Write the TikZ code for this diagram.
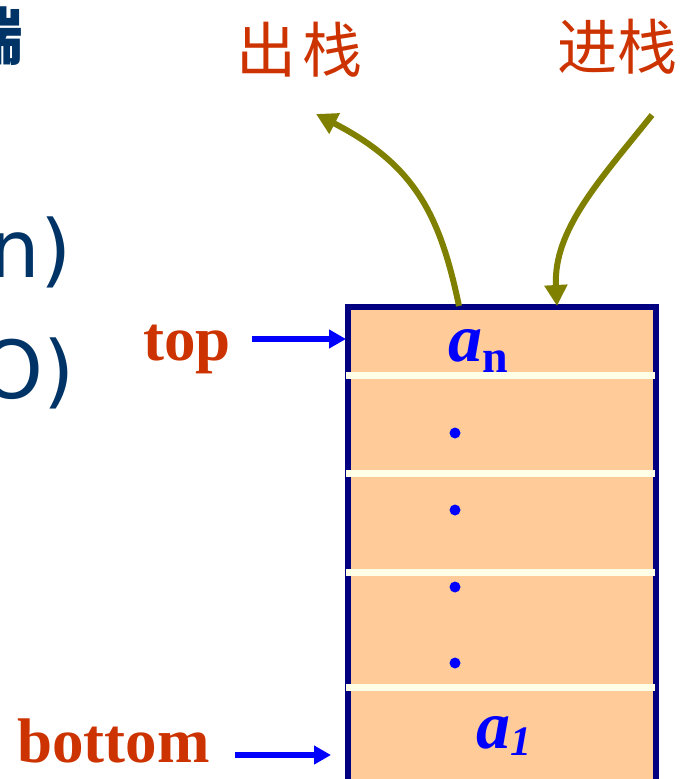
\documentclass[tikz,border=0pt]{standalone}
\usepackage{fontspec}
\setmainfont{Liberation Serif}
\newfontfamily\cjk{Noto Sans CJK SC}
\newfontfamily\slidesans{DejaVu Sans}
\usepackage{xcolor}
\usetikzlibrary{arrows.meta}
\definecolor{peach}{HTML}{FFCC99}
\definecolor{navyline}{HTML}{000080}
\definecolor{cream}{HTML}{FFFFE8}
\definecolor{labelred}{HTML}{CC3300}
\definecolor{olivearrow}{HTML}{808000}
\definecolor{slideblue}{HTML}{003366}

\begin{document}
\begin{tikzpicture}[x=1pt,y=-1pt,
    lbl/.style={inner sep=0pt,text=labelred,font=\fontsize{63}{63}\selectfont\bfseries},
    cjklbl/.style={inner sep=0pt,text=labelred,font=\cjk\fontsize{60}{60}\selectfont},
    slidetxt/.style={inner sep=0pt,text=slideblue,font=\slidesans\fontsize{80}{80}\selectfont},
    elem/.style={inner sep=0pt,text=blue,font=\fontsize{68}{68}\selectfont\bfseries\itshape},
    bluearrow/.style={-{Triangle[length=17pt,width=18pt]},blue,line width=6pt},
    olivecurve/.style={-{Triangle[length=21pt,width=22pt]},olivearrow,line width=6pt}]
  \useasboundingbox (0,0) rectangle (695,779);

  % 左侧被截断的文字
  \node[slidetxt,anchor=center,font=\cjk\fontsize{62}{62}\selectfont\bfseries] (duan) at (-7,36) {端};
  \node[slidetxt,anchor=base east] (lineone) at (72,277) {n)};
  \node[slidetxt,anchor=base east] (linetwo) at (75,398) {O)};

  % 栈体
  \fill[peach] (348,307) rectangle (656,800);
  \draw[navyline,line width=6pt] (348,800) -- (348,307) -- (656,307) -- (656,800);
  \foreach \y in {375,473,572,687}
    \draw[cream,line width=7pt] (346,\y) -- (655,\y);
  \foreach \y in {433,510,587,663}
    \fill[blue] (455,\y) circle (5.5);

  % 元素
  \node[elem,anchor=base west] (an) at (448,361)
    {a\raisebox{-11pt}{\fontsize{46}{46}\selectfont\upshape n}};
  \node[elem,anchor=base west] (aone) at (476,748)
    {a\raisebox{-7pt}{\fontsize{42}{42}\selectfont 1}};

  % 指针
  \node[lbl,anchor=base east] (top) at (231,360) {top};
  \node[lbl,anchor=base west] (bottom) at (17,762) {bottom};
  \coordinate (topfrom) at (252,339);
  \coordinate (topto) at (346,339);
  \coordinate (bottomfrom) at (235,755);
  \coordinate (bottomto) at (331,755);
  \draw[bluearrow] (topfrom) -- (topto);
  \draw[bluearrow] (bottomfrom) -- (bottomto);

  % 出栈、进栈
  \node[cjklbl,anchor=west] (pop) at (236,50) {出\hspace{6pt}栈};
  \node[cjklbl,anchor=west] (push) at (557,47) {进栈};
  \coordinate (popfrom) at (459,306);
  \coordinate (popto) at (316,114);
  \coordinate (pushfrom) at (652,115);
  \coordinate (pushto) at (557,306);
  \draw[olivecurve] (popfrom) .. controls (440,215) and (415,165) .. (popto);
  \draw[olivecurve] (pushfrom) .. controls (600,180) and (553,230) .. (pushto);
\end{tikzpicture}
\end{document}
